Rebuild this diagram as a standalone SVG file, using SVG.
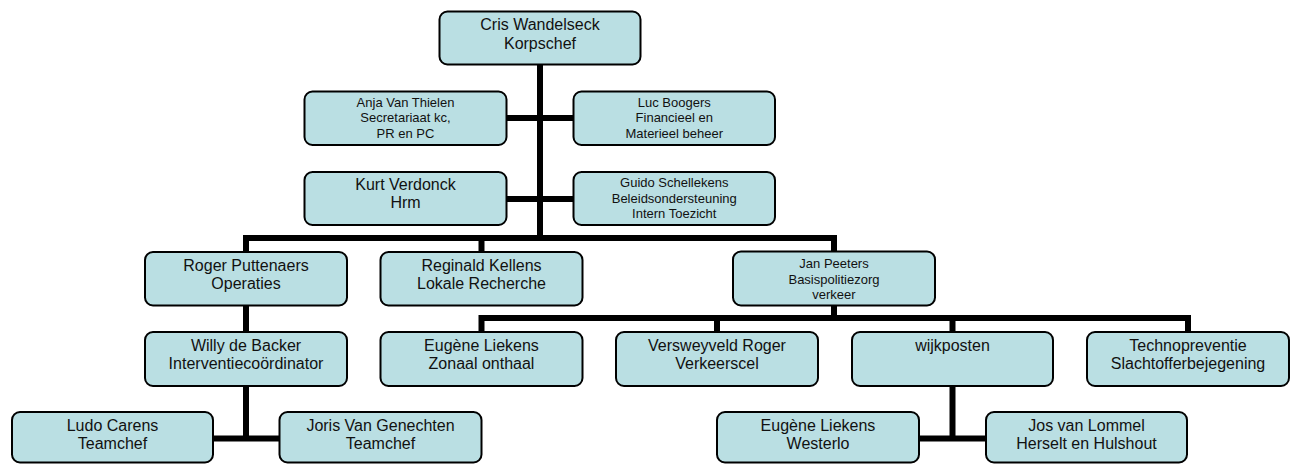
<svg xmlns="http://www.w3.org/2000/svg" width="1291" height="464" viewBox="0 0 1291 464">
<style>
.box{fill:#BADFE3;stroke:#000;stroke-width:2}
.t{font-family:"Liberation Sans",Arial,sans-serif;font-size:16px;fill:#111;text-anchor:middle}
.s{font-size:13px}
.c{fill:none;stroke:#000;stroke-width:6;stroke-linejoin:miter;stroke-linecap:butt}
</style>
<rect width="1291" height="464" fill="#fff"/>
<g id="connectors" class="c">
<path d="M540,64 V238"/>
<path d="M506,118 H574"/>
<path d="M506,199 H574"/>
<path d="M246,252 V238 H834 V251.5"/>
<path d="M481.5,238 V252"/>
<path d="M246,305 V332"/>
<path d="M246,386 V438.5"/>
<path d="M213,438.5 H279.5"/>
<path d="M834,305 V318"/>
<path d="M481.5,332 V318 H1188 V332"/>
<path d="M717,318 V332"/>
<path d="M952.5,318 V332"/>
<path d="M952.5,386 V438.5"/>
<path d="M919,438.5 H986"/>
</g>
<g id="cris"><rect class="box" x="439.5" y="11.5" width="201" height="53" rx="8"/>
<text class="t" x="540" y="30">Cris Wandelseck</text><text class="t" x="540" y="48.5">Korpschef</text></g>
<g id="anja"><rect class="box" x="304.5" y="91.5" width="202" height="53.5" rx="8"/>
<text class="t s" x="405.5" y="106.5">Anja Van Thielen</text><text class="t s" x="405.5" y="122">Secretariaat kc,</text><text class="t s" x="405.5" y="137.5">PR en PC</text></g>
<g id="luc"><rect class="box" x="573.5" y="91.5" width="201.5" height="53.5" rx="8"/>
<text class="t s" x="674.25" y="106.5">Luc Boogers</text><text class="t s" x="674.25" y="122">Financieel en</text><text class="t s" x="674.25" y="137.5">Materieel beheer</text></g>
<g id="kurt"><rect class="box" x="304.5" y="172" width="202" height="53" rx="8"/>
<text class="t" x="405.5" y="190">Kurt Verdonck</text><text class="t" x="405.5" y="207.5">Hrm</text></g>
<g id="guido"><rect class="box" x="573.5" y="172" width="201.5" height="53" rx="8"/>
<text class="t s" x="674.25" y="186.5">Guido Schellekens</text><text class="t s" x="674.25" y="202.5">Beleidsondersteuning</text><text class="t s" x="674.25" y="217.5">Intern Toezicht</text></g>
<g id="roger"><rect class="box" x="145" y="252" width="202" height="53.5" rx="8"/>
<text class="t" x="246" y="270.5">Roger Puttenaers</text><text class="t" x="246" y="288.5">Operaties</text></g>
<g id="reginald"><rect class="box" x="380.5" y="252" width="202" height="53.5" rx="8"/>
<text class="t" x="481.5" y="270.5">Reginald Kellens</text><text class="t" x="481.5" y="288.5">Lokale Recherche</text></g>
<g id="jan"><rect class="box" x="733" y="251.5" width="202" height="54" rx="8"/>
<text class="t s" x="834" y="268">Jan Peeters</text><text class="t s" x="834" y="283.5">Basispolitiezorg</text><text class="t s" x="834" y="298.5">verkeer</text></g>
<g id="willy"><rect class="box" x="145" y="332" width="202" height="54" rx="8"/>
<text class="t" x="246" y="350.5">Willy de Backer</text><text class="t" x="246" y="368.5">Interventiecoördinator</text></g>
<g id="eugene-zonaal"><rect class="box" x="380.5" y="332" width="202" height="54" rx="8"/>
<text class="t" x="481.5" y="350.5">Eugène Liekens</text><text class="t" x="481.5" y="368.5">Zonaal onthaal</text></g>
<g id="versweyveld"><rect class="box" x="616" y="332" width="202" height="54" rx="8"/>
<text class="t" x="717" y="350.5">Versweyveld Roger</text><text class="t" x="717" y="368.5">Verkeerscel</text></g>
<g id="wijkposten"><rect class="box" x="852" y="332" width="201" height="54" rx="8"/>
<text class="t" x="952.5" y="350.5">wijkposten</text></g>
<g id="techno"><rect class="box" x="1087" y="332" width="202" height="54" rx="8"/>
<text class="t" x="1188" y="350.5">Technopreventie</text><text class="t" x="1188" y="368.5">Slachtofferbejegening</text></g>
<g id="ludo"><rect class="box" x="12" y="412" width="201" height="50.5" rx="8"/>
<text class="t" x="112.5" y="430.5">Ludo Carens</text><text class="t" x="112.5" y="448.5">Teamchef</text></g>
<g id="joris"><rect class="box" x="279.5" y="412" width="202" height="50.5" rx="8"/>
<text class="t" x="380.5" y="430.5">Joris Van Genechten</text><text class="t" x="380.5" y="448.5">Teamchef</text></g>
<g id="eugene-westerlo"><rect class="box" x="717" y="412" width="202" height="50.5" rx="8"/>
<text class="t" x="818" y="430.5">Eugène Liekens</text><text class="t" x="818" y="448.5">Westerlo</text></g>
<g id="jos"><rect class="box" x="986" y="412" width="201" height="50.5" rx="8"/>
<text class="t" x="1086.5" y="430.5">Jos van Lommel</text><text class="t" x="1086.5" y="448.5">Herselt en Hulshout</text></g>
</svg>
